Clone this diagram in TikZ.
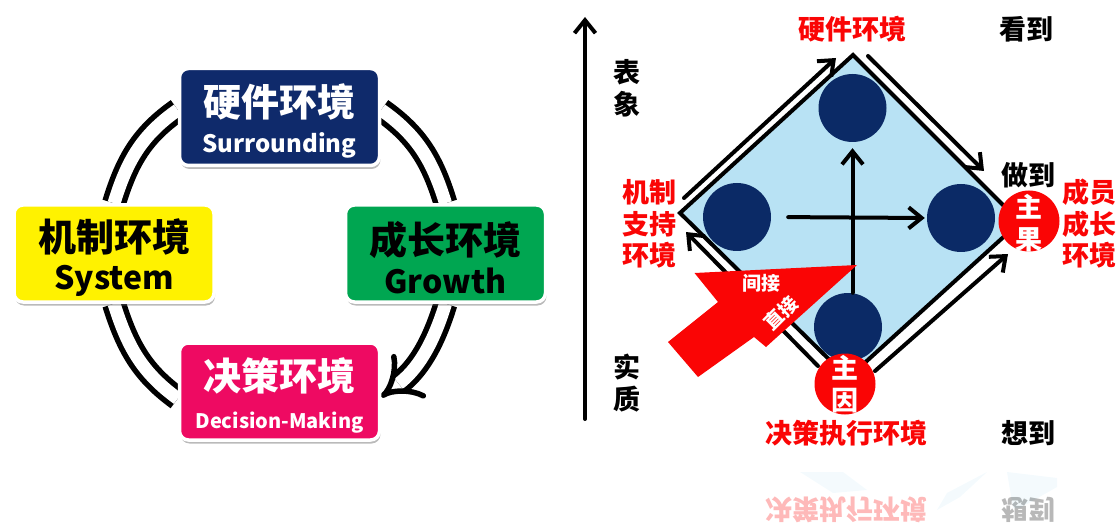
\documentclass[tikz,border=0pt]{standalone}
\usepackage{fontspec}
\setmainfont{Noto Sans CJK SC}
\usetikzlibrary{arrows.meta,shadows,backgrounds}
\definecolor{navy}{HTML}{0B2A66}
\definecolor{ltblue}{HTML}{B8E2F4}
\definecolor{zred}{HTML}{FA0505}
\definecolor{hwblue}{HTML}{0F2A6B}
\definecolor{ygreen}{HTML}{00A651}
\definecolor{mag}{HTML}{EE0A62}
\newcommand{\fs}[1]{\fontsize{#1}{#1}\selectfont}
\newcommand{\upgap}{\rule{0pt}{41pt}}
\tikzset{
  envbox/.style={rectangle,rounded corners=9pt,draw=white,line width=3.5pt,minimum width=200pt,minimum height=97pt,inner sep=0pt,align=center,font=\bfseries,
    general shadow={fill=black!60,opacity=.45,shadow xshift=1pt,shadow yshift=-3.5pt}},
  ring/.style={draw=black,line width=5.5pt,double=white,double distance=13pt},
  ringtip/.style={ring,-{Implies}},
  barb/.style={draw=black,line width=4pt,line cap=round,-{Straight Barb[length=13pt,width=21pt,line width=4pt]}},
  dot/.style={circle,fill=navy,minimum size=68pt,inner sep=0pt},
  zdot/.style={circle,fill=zred,minimum size=61pt,inner sep=0pt},
  lab/.style={font=\bfseries\fs{27},inner sep=0pt,align=center},
  redlab/.style={lab,text=zred},
  stack/.style={lab,execute at begin node=\setlength{\baselineskip}{31.5pt}},
  refl/.style={lab,transform shape,yscale=-1,opacity=.28},
  reflblue/.style={fill=ltblue,opacity=.16}
}
\begin{document}
\begin{tikzpicture}[x=1pt,y=1pt]
\useasboundingbox (0,0) rectangle (1117,523);
% left ring boxes
\node[envbox,fill=hwblue,text=white] (hw) at (279.5,406) {\fs{38}\upgap 硬件环境\\[11pt]\fs{24}Surrounding};
\node[envbox,fill=yellow,text=black] (sys) at (114,269.5) {\fs{38}\upgap 机制环境\\[9pt]\fs{32}System};
\node[envbox,fill=ygreen,text=black] (gr) at (445.5,269.5) {\fs{38}\upgap 成长环境\\[8pt]\fs{32}Growth};
\node[envbox,fill=mag,text=white] (dec) at (279.5,131.5) {\fs{38}\upgap 决策环境\\[16pt]\fs{20}Decision-Making};
\begin{pgfonlayer}{background}
\draw[ring] (hw.4) to[out=-35,in=107] (gr.north);
\draw[ringtip] (gr.south) to[out=-107,in=37] (dec.-3);
\draw[ring] (dec.184) to[out=144,in=-72.5] (sys.south);
\draw[ring] (sys.north) to[out=73,in=215] (hw.176);
\end{pgfonlayer}
% axis
\coordinate (axb) at (585,104);
\coordinate (axt) at (585,506);
\draw[barb] (axb) -- (axt);
\node[lab,text=black] (biao) at (627,451) {表};
\node[lab,text=black] (xiang) at (627,419) {象};
\node[lab,text=black] (shi) at (627,156) {实};
\node[lab,text=black] (zhi) at (627,124) {质};
% diamond
\filldraw[fill=ltblue,draw=black,line width=4pt,miter limit=10] (853,468) -- (680,310) -- (848,145) -- (1020,301) -- cycle;
\coordinate (a1) at (684,325); \coordinate (a2) at (836,465);
\coordinate (b1) at (868,467); \coordinate (b2) at (984,352);
\coordinate (c1) at (875,152); \coordinate (c2) at (1008,269);
\coordinate (d1) at (818,157); \coordinate (d2) at (686,291);
\draw[barb] (a1) -- (a2);
\draw[barb] (b1) -- (b2);
\draw[barb] (c1) -- (c2);
\draw[barb] (d1) -- (d2);
\node[dot] (ct) at (852.5,415) {};
\node[dot] (cl) at (737,306) {};
\node[dot] (cr) at (961,305) {};
\node[dot] (cb) at (848,196) {};
\draw[barb,shorten >=6pt] (cb.north -| ct) -- (ct.south);
\draw[barb,shorten <=17pt,shorten >=2pt] (cl.east) -- (cr.west);
% big red arrow
\fill[zred] (857,258) -- (694.5,250) -- (718,221) -- (668,181) -- (698,146) -- (754,186) -- (766,176) -- cycle;
\node[font=\bfseries\fs{19},text=white,inner sep=0pt] (jian) at (761,240) {间接};
\node[font=\bfseries\fs{19},text=white,inner sep=0pt,rotate=45] (zhijie) at (781,210) {直接};
% red circles
\node[zdot] (zg) at (1029,302) {};
\node[zdot] (zy) at (845,139) {};
\node[lab,stack,text=white] (zgt) at (1029,300) {主\\果};
\node[lab,stack,text=white] (zyt) at (845,139) {主\\因};
% labels
\node[redlab] (thw) at (852.5,494) {硬件环境};
\node[lab] (kan) at (1026,494) {看到};
\node[lab] (zuo) at (1028,348) {做到};
\node[lab] (xg) at (1028,90) {想到};
\node[redlab] (tdec) at (846.5,90) {决策执行环境};
\node[redlab,stack] (tsys) at (649,299) {机制\\支持\\环境};
\node[redlab,stack] (tgr) at (1089,299) {成员\\成长\\环境};
% reflection
\fill[reflblue] (800,51) -- (843,51) -- (867,33) -- (833,30) -- cycle;
\fill[reflblue] (947,30) -- (987,51) -- (960,26) -- (937,13) -- cycle;
\fill[reflblue] (1007,51) -- (1057,45) -- (1057,36) -- (1020,15) -- (1013,15) -- cycle;
\node[refl,text=zred] (rdec) at (846.5,13) {决策执行环境};
\node[refl,text=black] (rxg) at (1028,13) {想到};
\end{tikzpicture}
\end{document}
